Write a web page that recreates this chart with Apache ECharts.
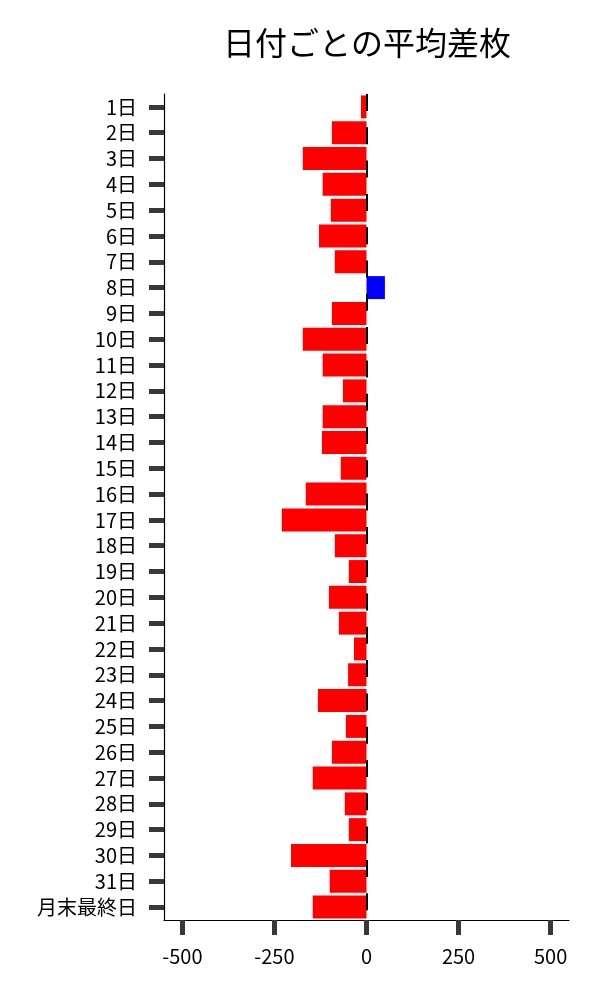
<!DOCTYPE html>
<html><head><meta charset="utf-8">
<script src="https://cdn.jsdelivr.net/npm/echarts@6/dist/echarts.min.js"></script>
<style>html,body{margin:0;padding:0;background:#fff}#c{width:600px;height:1000px}</style>
</head><body><div id="c"></div>
<script>
const categories = ['1日','2日','3日','4日','5日','6日','7日','8日','9日','10日','11日','12日','13日','14日','15日','16日','17日','18日','19日','20日','21日','22日','23日','24日','25日','26日','27日','28日','29日','30日','31日','月末最終日'];
const values = [-15,-94,-173,-119,-97,-129,-86,50,-94,-173,-119,-64,-119,-121,-70,-165,-230,-86,-48,-102,-75,-34,-50,-132,-56,-94,-146,-59,-48,-205,-100,-146];
const xTicks = [-500,-250,0,250,500];
const titleText = '日付ごとの平均差枚';

const FONT = '"Noto Sans CJK JP", "Noto Sans", sans-serif';
const chart = echarts.init(document.getElementById('c'), null, {renderer:'canvas'});
chart.setOption({
  animation:false,
  backgroundColor:'#fff',
  title:{text:titleText,left:362,top:38,textAlign:'center',textVerticalAlign:'middle',
    textStyle:{fontFamily:FONT,fontSize:32,fontWeight:'normal',color:'#000'}},
  grid:{left:164,right:31,top:94,bottom:80,containLabel:false},
  xAxis:{type:'value',min:-550,max:550,
    axisLine:{show:true,onZero:false,lineStyle:{color:'#000',width:1.2}},
    axisTick:{show:true,customValues:xTicks,length:15,lineStyle:{color:'#383838',width:5}},
    axisLabel:{customValues:xTicks,margin:26,fontFamily:FONT,fontSize:20,color:'#000'},
    splitLine:{show:false}},
  yAxis:{type:'category',data:categories,inverse:true,
    axisLine:{show:true,onZero:false,lineStyle:{color:'#000',width:1.2}},
    axisTick:{show:true,interval:0,alignWithLabel:true,length:15,lineStyle:{color:'#383838',width:5}},
    axisLabel:{interval:0,margin:27,fontFamily:FONT,fontSize:20,color:'#000'},
    splitLine:{show:false}},
  series:[{type:'bar',data:values.map(v=>({value:v,itemStyle:{color:v<0?'#ff0000':'#0000ff'}})),
    barWidth:'89%',
    markLine:{silent:true,symbol:'none',label:{show:false},
      lineStyle:{color:'#000',width:2,type:[17,16.3]},
      data:[{xAxis:0}]}}]
});
</script></body></html>
